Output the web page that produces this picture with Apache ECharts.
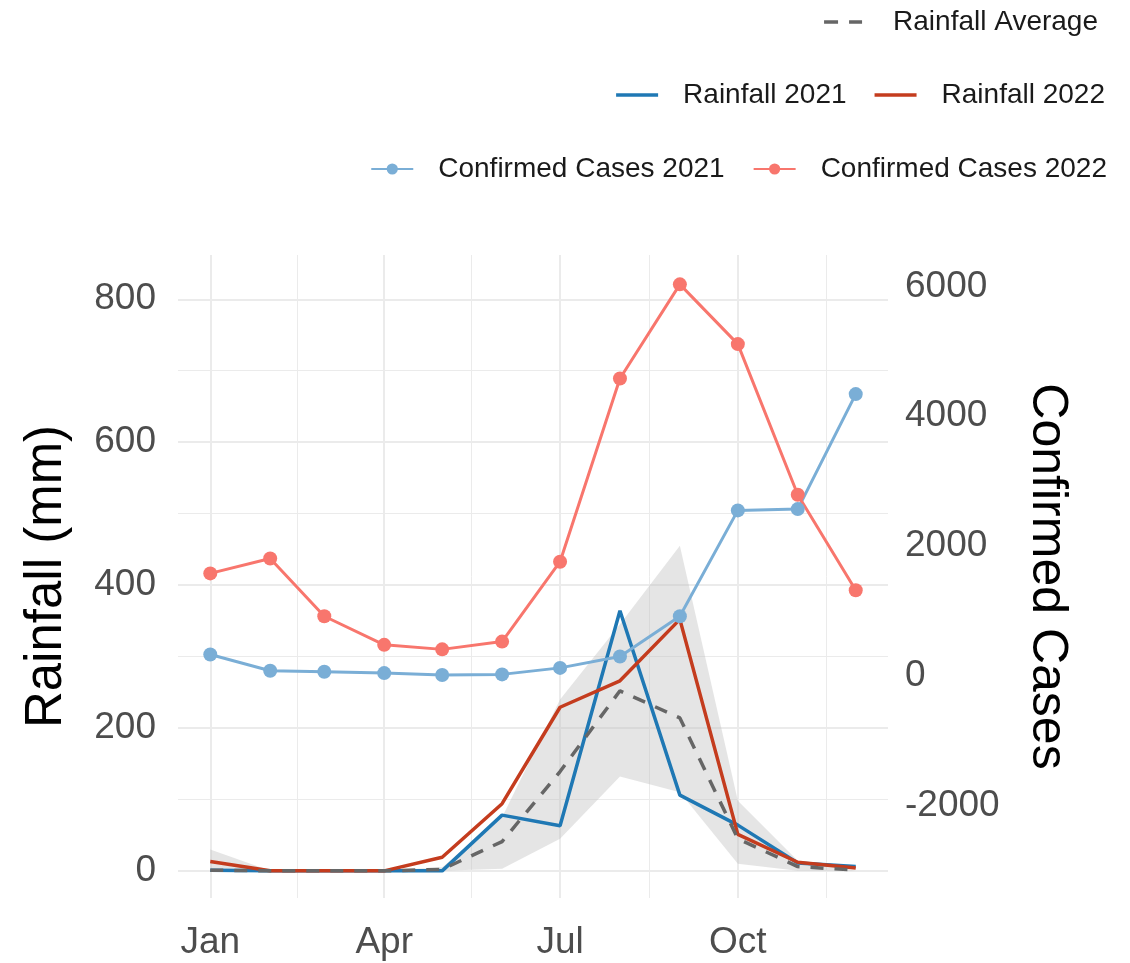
<!DOCTYPE html>
<html><head><meta charset="utf-8">
<script src="https://cdn.jsdelivr.net/npm/echarts@6/dist/echarts.min.js"></script>
<style>html,body{margin:0;padding:0;background:#fff}#c{width:1130px;height:963px}</style>
</head><body><div id="c"></div>
<script>
// ---- data ----
const months = ['2021-01-01','2021-02-01','2021-03-01','2021-04-01','2021-05-01','2021-06-01',
                '2021-07-01','2021-08-01','2021-09-01','2021-10-01','2021-11-01','2021-12-01'];
const rainfall2021    = [1, 0, 0, 0, 0, 78, 63, 364, 106, 64, 11, 6];
const rainfall2022    = [13, 0, 0, 0, 19, 94, 229, 266, 352, 51, 12, 4];
const rainfallAverage = [1, 0, 0, 0, 2, 41, 139, 252, 214, 45, 6, 1];
const rainfallLower   = [0, 0, 0, 0, 0, 3, 45, 132, 110, 10, 0, 0];
const rainfallUpper   = [30, 0, 0, 0, 5, 75, 240, 345, 455, 98, 14, 0];
const cases2021 = [330, 80, 65, 45, 15, 25, 125, 300, 920, 2550, 2570, 4340];
const cases2022 = [1580, 1810, 920, 480, 410, 530, 1760, 4580, 6030, 5110, 2790, 1320];

const xTickDates  = ['2021-01-01','2021-04-01','2021-07-01','2021-10-01'];
const xTickLabels = ['Jan','Apr','Jul','Oct'];
const xMinorDates = ['2021-02-15','2021-05-16','2021-08-16','2021-11-16'];
const rainTicks      = [0, 200, 400, 600, 800];
const rainMinorTicks = [100, 300, 500, 700];
const casesTicks     = [-2000, 0, 2000, 4000, 6000];

// ---- config ----
const ts = s => new Date(s + 'T00:00:00Z').getTime();
const monthTs = months.map(ts);
const xTickTs = xTickDates.map(ts);
const xMinorTs = xMinorDates.map(ts);
const span = monthTs[monthTs.length - 1] - monthTs[0];
const xMin = monthTs[0] - 0.05 * span, xMax = monthTs[monthTs.length - 1] + 0.05 * span;
const rainMin = -38, rainMax = 862;
const secScale = 11, secOffset = -3000;   // cases = rain * 11 - 3000
const casesMin = rainMin * secScale + secOffset, casesMax = rainMax * secScale + secOffset;

const pair = arr => arr.map((v, i) => [monthTs[i], v]);
const FONT = 'Liberation Sans, Arial, sans-serif';
const GRID = '#ebebeb';
const LINE_ICON = 'path://M0,0 H42 V3.5 H0 Z';
const DASH_ICON = 'path://M0,0 H14 V3.5 H0 Z M25,0 H38 V3.5 H25 Z';

const legendCommon = {
  orient: 'horizontal', padding: 0, itemWidth: 42, itemHeight: 14, itemGap: 28,
  selectedMode: false,
  textStyle: { fontSize: 28, color: '#1a1a1a', fontFamily: FONT, padding: [0, 0, 0, 20] }
};

const option = {
  backgroundColor: '#fff',
  animation: false,
  textStyle: { fontFamily: FONT },
  grid: { left: 178, right: 242, top: 255, bottom: 65, containLabel: false, outerBoundsMode: 'none' },
  legend: [
    Object.assign({}, legendCommon, { data: [{ name: 'Rainfall Average', icon: DASH_ICON }], right: 32, top: 8,
      itemWidth: 38,
      textStyle: Object.assign({}, legendCommon.textStyle, { padding: [0, 0, 0, 26] }) }),
    Object.assign({}, legendCommon, { data: [{ name: 'Rainfall 2021', icon: LINE_ICON },
                                             { name: 'Rainfall 2022', icon: LINE_ICON }], right: 25, top: 81 }),
    Object.assign({}, legendCommon, { data: ['Confirmed Cases 2021', 'Confirmed Cases 2022'], right: 23, top: 155 })
  ],
  xAxis: [
    {
      type: 'value', min: xMin, max: xMax, scale: true,
      axisLine: { show: false },
      axisTick: { show: false, customValues: xTickTs },
      axisLabel: {
        customValues: xTickTs, fontSize: 37, color: '#4d4d4d', margin: 26, fontFamily: FONT,
        formatter: v => { const i = xTickTs.indexOf(v); return i >= 0 ? xTickLabels[i] : ''; }
      },
      splitLine: { show: true, lineStyle: { color: GRID, width: 2 } }
    },
    {
      type: 'value', min: xMin, max: xMax, scale: true, position: 'bottom',
      axisLine: { show: false },
      axisTick: { show: false, customValues: xMinorTs },
      axisLabel: { show: false },
      splitLine: { show: true, lineStyle: { color: GRID, width: 1 } }
    }
  ],
  yAxis: [
    {
      type: 'value', position: 'left', min: rainMin, max: rainMax,
      axisLine: { show: false },
      axisTick: { show: false, customValues: rainTicks },
      axisLabel: { customValues: rainTicks, fontSize: 37, color: '#4d4d4d', margin: 22, fontFamily: FONT,
                   formatter: v => String(v) },
      splitLine: { show: true, lineStyle: { color: GRID, width: 2 } },
      name: 'Rainfall (mm)', nameLocation: 'middle', nameRotate: 90, nameGap: 106,
      nameTextStyle: { fontSize: 51, color: '#000', fontFamily: FONT }
    },
    {
      type: 'value', position: 'right', min: casesMin, max: casesMax,
      axisLine: { show: false },
      axisTick: { show: false, customValues: casesTicks },
      axisLabel: { customValues: casesTicks, fontSize: 37, color: '#4d4d4d', margin: 17, fontFamily: FONT,
                   formatter: v => String(v) },
      splitLine: { show: false },
      name: 'Confirmed Cases', nameLocation: 'middle', nameRotate: -90, nameGap: 134,
      nameTextStyle: { fontSize: 50, color: '#000', fontFamily: FONT }
    },
    {
      type: 'value', position: 'left', min: rainMin, max: rainMax,
      axisLine: { show: false },
      axisTick: { show: false, customValues: rainMinorTicks },
      axisLabel: { show: false },
      splitLine: { show: true, lineStyle: { color: GRID, width: 1 } }
    }
  ],
  series: [
    { name: 'ribbon', type: 'custom', coordinateSystem: 'cartesian2d', silent: true, clip: true,
      encode: { x: 0, y: 1 }, data: pair(rainfallUpper),
      renderItem: (params, api) => {
        if (params.dataIndex !== 0) return null;
        const pts = [];
        for (let i = 0; i < monthTs.length; i++) pts.push(api.coord([monthTs[i], rainfallUpper[i]]));
        for (let i = monthTs.length - 1; i >= 0; i--) pts.push(api.coord([monthTs[i], rainfallLower[i]]));
        return { type: 'polygon', shape: { points: pts },
                 style: { fill: 'rgb(190,190,190)', opacity: 0.4 }, silent: true };
      } },
    { name: 'Rainfall 2021', type: 'line', data: pair(rainfall2021), symbol: 'none',
      color: '#1f78b4', lineStyle: { color: '#1f78b4', width: 3.5 } },
    { name: 'Rainfall 2022', type: 'line', data: pair(rainfall2022), symbol: 'none',
      color: '#c43c1e', lineStyle: { color: '#c43c1e', width: 3.5 } },
    { name: 'Rainfall Average', type: 'line', data: pair(rainfallAverage), symbol: 'none',
      color: '#666666', lineStyle: { color: '#666666', width: 3.5, type: [13, 11] } },
    { name: 'Confirmed Cases 2021', type: 'line', yAxisIndex: 1, data: pair(cases2021),
      symbol: 'circle', symbolSize: 14, color: '#7aaed6',
      lineStyle: { color: '#7aaed6', width: 3 }, itemStyle: { color: '#7aaed6' } },
    { name: 'Confirmed Cases 2022', type: 'line', yAxisIndex: 1, data: pair(cases2022),
      symbol: 'circle', symbolSize: 14, color: '#f8766d',
      lineStyle: { color: '#f8766d', width: 3 }, itemStyle: { color: '#f8766d' } }
  ]
};

const chart = echarts.init(document.getElementById('c'), null, { renderer: 'canvas' });
chart.setOption(option);
</script>
</body></html>
